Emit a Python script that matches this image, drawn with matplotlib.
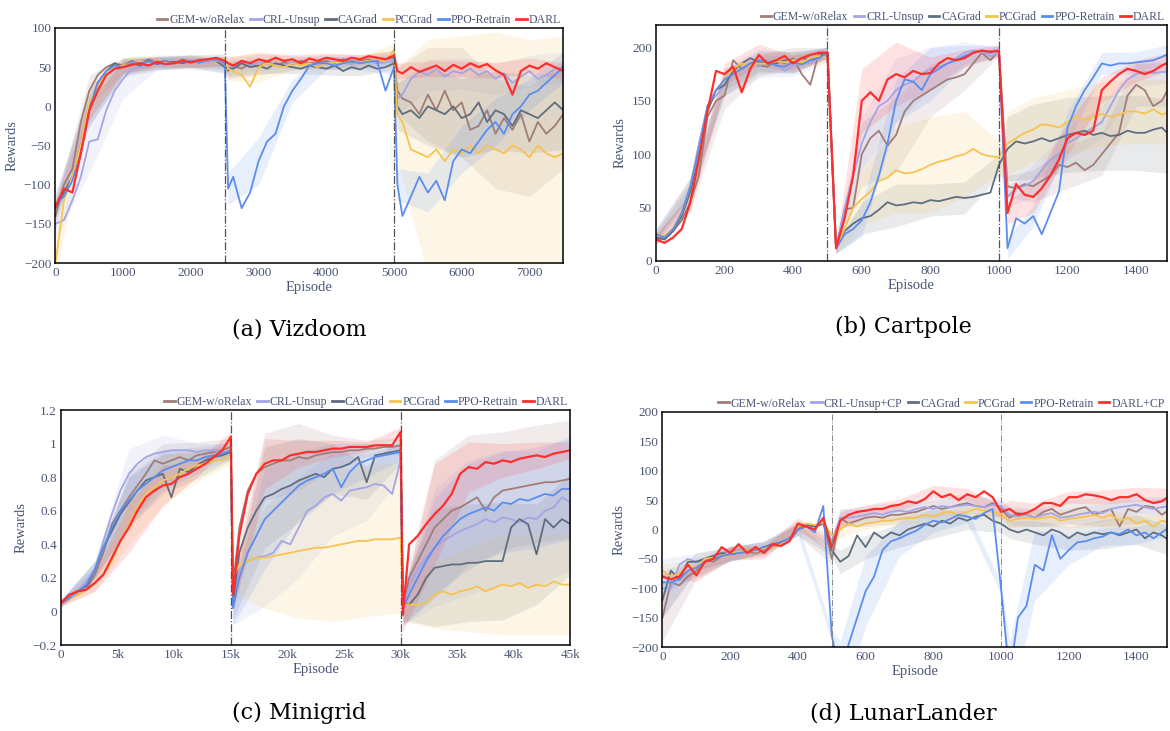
import numpy as np
import matplotlib
matplotlib.use("Agg")
import matplotlib.pyplot as plt

plt.rcParams['font.family'] = ['Liberation Serif', 'DejaVu Serif']

methods = ["GEM-w/oRelax", "CRL-Unsup", "CAGrad", "PCGrad", "PPO-Retrain", "DARL"]
methods_ll = ["GEM-w/oRelax", "CRL-Unsup+CP", "CAGrad", "PCGrad", "PPO-Retrain", "DARL+CP"]
colors = ["#a07d76", "#a3a5e6", "#5f6e7e", "#f7c34f", "#5b8def", "#ff2e2e"]

# ---------------- (a) Vizdoom ----------------
vz_x = sorted(list(range(0, 7501, 125)) + [2550, 5050])
vz_gem = [-140,-100,-80,-20,20,40,50,55,52,58,55,60,56,58,55,60,57,56,58,60,55, 45,
          52,48,55,50,58,52,56,54,58,55,56,58,55,60,56,58,60,58,60,62, 20,
          10,5,-10,15,-5,20,-5,5,-30,-25,-5,-35,-15,-30,-10,-45,-20,-35,-25,-10]
vz_crl = [-150,-145,-120,-90,-45,-42,-5,20,35,48,50,52,55,53,55,57,55,58,56,60,52, 50,
          50,55,52,56,54,55,52,57,55,54,52,55,57,55,54,56,58,55,56,58, 10,
          15,35,45,40,48,38,45,42,48,40,45,35,42,30,38,45,35,40,48,50]
vz_cag = [-130,-110,-90,-50,0,30,45,55,50,55,52,58,54,56,57,55,58,56,60,58,50, 48,
          48,55,50,52,48,55,52,50,48,52,50,48,52,45,50,47,52,48,50,55, 0,
          -10,-5,-15,0,-5,-10,0,-15,-10,5,-20,-5,-10,-25,-5,-10,-15,-5,5,-5]
vz_pcg = [-200,-120,-90,-50,5,25,45,50,52,55,57,55,58,56,55,58,57,56,60,58,60, 48,
          45,40,25,50,55,52,50,55,52,55,50,55,56,55,58,56,58,60,58,72, -10,
          -20,-55,-60,-65,-55,-70,-55,-60,-50,-60,-50,-55,-60,-50,-55,-65,-50,-60,-65,-60]
vz_ppo = [-125,-115,-95,-60,-5,30,45,52,50,55,55,57,56,58,55,57,58,56,60,59,58, -105,
          -90,-130,-110,-70,-45,-35,0,20,35,52,55,55,52,55,58,55,57,58,20,50, -100,
          -140,-115,-90,-110,-95,-120,-70,-55,-60,-45,-30,-20,-35,-10,0,15,20,30,40,50]
vz_darl = [-128,-105,-110,-60,-5,20,40,48,50,53,55,52,57,54,55,58,56,59,60,62,58, 55,
           52,58,55,60,57,62,58,60,55,61,58,62,60,58,62,60,64,62,60,65, 45,
           42,50,44,48,52,45,53,48,55,50,54,46,40,15,45,52,48,55,50,45]
vz_band_x = [0, 500, 1000, 1500, 2000, 2500, 2550, 3000, 3500, 4000, 4500, 5000, 5050, 5500, 6000, 6500, 7000, 7500]
vz_gem_w = [15,20,10,8,8,8,10,10,8,8,8,8,30,60,70,70,70,70]
vz_crl_w = [20,40,25,8,8,8,10,10,8,8,8,8,20,20,20,20,20,20]
vz_cag_w = [15,25,12,8,8,8,10,10,8,8,8,8,30,50,50,50,50,50]
vz_pcg_w = [15,20,10,8,8,8,15,20,8,8,8,8,60,150,150,150,150,150]
vz_ppo_w = [15,20,10,8,8,8,20,30,15,8,8,10,20,25,30,30,20,20]
vz_darl_w = [10,12,8,6,6,6,8,8,6,6,6,6,10,10,10,10,10,10]

# ---------------- (b) Cartpole ----------------
cp_x = list(range(0, 1501, 25))
cp_gem = [20,22,28,38,55,80,135,150,155,188,180,185,183,182,188,185,190,175,165,195,195,
          12,48,50,100,115,122,108,118,140,150,155,160,165,170,172,175,185,195,188,197,
          70,68,72,70,75,80,90,88,92,85,90,100,110,120,155,165,160,145,150,165]
cp_crl = [25,22,30,45,70,110,145,155,165,175,180,185,182,188,185,178,183,186,185,190,192,
          12,50,80,110,130,145,150,160,165,168,175,180,182,185,190,195,197,196,192,195,
          60,68,70,75,85,95,100,110,115,120,125,130,145,160,170,175,177,176,177,177]
cp_cag = [22,20,28,42,65,100,140,160,165,178,185,190,186,185,185,188,186,190,188,192,195,
          12,28,35,40,42,48,55,52,53,55,54,57,56,58,60,59,60,62,64,90,
          105,112,110,112,115,112,115,118,120,122,118,120,117,118,122,120,120,123,125,117]
cp_pcg = [24,24,30,45,70,105,145,160,170,180,185,183,185,185,187,186,188,186,190,192,190,
          12,30,50,58,65,75,78,85,82,83,86,90,93,95,98,100,105,100,98,97,
          110,115,120,123,128,127,125,130,135,132,135,138,135,137,140,140,138,142,137,140]
cp_ppo = [25,22,30,45,70,105,145,160,170,175,180,185,188,186,183,182,186,184,188,190,195,
          12,25,30,38,55,80,110,150,170,168,160,175,180,185,188,192,195,197,195,197,
          12,40,35,42,25,45,65,125,145,160,172,185,183,185,185,186,187,188,191,195]
cp_darl = [20,17,22,30,55,95,140,178,175,182,158,180,193,185,188,192,185,190,193,195,195,
           12,40,80,150,158,150,170,175,172,178,175,176,185,190,188,190,195,197,196,197,
           45,72,62,60,68,80,95,115,120,118,122,160,168,175,180,178,175,178,183,187]
cp_band_x = [0, 100, 200, 300, 400, 500, 525, 600, 700, 800, 900, 1000, 1025, 1100, 1200, 1300, 1400, 1500]
cp_gem_w = [5,8,12,10,10,5,5,30,35,25,15,5,10,15,20,20,20,20]
cp_crl_w = [5,8,10,10,10,5,5,25,30,20,10,5,10,15,15,15,12,10]
cp_cag_w = [5,8,10,10,10,5,5,15,20,15,15,10,30,35,35,35,35,35]
cp_pcg_w = [5,8,10,8,8,5,5,25,40,45,40,15,30,30,30,30,30,30]
cp_ppo_w = [5,8,10,10,10,5,5,15,20,25,10,5,10,10,15,10,10,8]
cp_darl_w = [5,8,10,10,8,5,5,30,30,15,8,5,10,15,15,12,10,8]

# ---------------- (c) Minigrid ----------------
mg_x = sorted(list(range(0, 45001, 750)) + [15200, 30200])
mg_gem = [0.05,0.08,0.1,0.13,0.22,0.35,0.52,0.6,0.68,0.75,0.82,0.9,0.88,0.9,0.92,0.9,0.93,0.94,0.95,0.96,0.98, 0.15,
          0.5,0.72,0.82,0.86,0.88,0.9,0.9,0.92,0.91,0.93,0.94,0.95,0.95,0.96,0.96,0.97,0.97,0.98,0.98,0.99, 0.02,
          0.2,0.3,0.4,0.5,0.55,0.6,0.62,0.65,0.68,0.6,0.68,0.72,0.73,0.74,0.75,0.76,0.77,0.77,0.78,0.79]
mg_crl = [0.05,0.1,0.12,0.18,0.25,0.42,0.58,0.72,0.82,0.88,0.92,0.94,0.95,0.96,0.96,0.96,0.95,0.96,0.96,0.95,0.95, 0.02,
          0.25,0.3,0.32,0.33,0.35,0.42,0.4,0.5,0.6,0.63,0.68,0.7,0.66,0.72,0.73,0.74,0.76,0.75,0.7,0.9, 0.02,
          0.15,0.25,0.32,0.38,0.42,0.45,0.48,0.5,0.52,0.55,0.53,0.56,0.55,0.53,0.56,0.55,0.6,0.62,0.68,0.65]
mg_cag = [0.05,0.08,0.12,0.15,0.25,0.38,0.48,0.58,0.65,0.72,0.78,0.8,0.82,0.68,0.85,0.83,0.87,0.9,0.92,0.93,0.95, 0.05,
          0.35,0.5,0.6,0.68,0.7,0.73,0.75,0.78,0.8,0.82,0.8,0.85,0.86,0.88,0.92,0.77,0.93,0.94,0.95,0.96, 0.05,
          0.04,0.1,0.2,0.26,0.27,0.28,0.28,0.29,0.29,0.3,0.3,0.3,0.5,0.55,0.52,0.34,0.55,0.5,0.55,0.52]
mg_pcg = [0.05,0.08,0.1,0.13,0.17,0.22,0.3,0.42,0.52,0.62,0.7,0.74,0.78,0.8,0.82,0.85,0.87,0.88,0.9,0.9,0.93, 0.2,
          0.28,0.3,0.32,0.32,0.33,0.34,0.35,0.36,0.37,0.38,0.38,0.39,0.4,0.41,0.42,0.42,0.43,0.43,0.43,0.44, 0.04,
          0.04,0.04,0.05,0.1,0.12,0.1,0.12,0.13,0.15,0.12,0.14,0.16,0.15,0.17,0.14,0.16,0.15,0.18,0.16,0.16]
mg_ppo = [0.05,0.08,0.12,0.16,0.25,0.38,0.5,0.6,0.66,0.72,0.76,0.8,0.84,0.86,0.88,0.9,0.9,0.92,0.93,0.94,0.96, 0.02,
          0.2,0.35,0.45,0.55,0.6,0.65,0.7,0.75,0.78,0.8,0.82,0.85,0.74,0.83,0.88,0.9,0.92,0.93,0.94,0.95, 0.02,
          0.1,0.2,0.3,0.38,0.45,0.5,0.55,0.58,0.6,0.62,0.6,0.65,0.64,0.67,0.66,0.68,0.7,0.69,0.73,0.73]
mg_darl = [0.05,0.1,0.12,0.13,0.17,0.22,0.32,0.42,0.5,0.6,0.68,0.72,0.75,0.76,0.8,0.82,0.85,0.88,0.92,0.96,1.04, 0.1,
           0.45,0.7,0.82,0.88,0.9,0.9,0.93,0.94,0.95,0.95,0.96,0.97,0.97,0.98,0.98,0.98,0.99,0.99,0.99,1.07, -0.02,
           0.4,0.45,0.52,0.58,0.63,0.7,0.82,0.86,0.85,0.89,0.88,0.9,0.89,0.91,0.92,0.93,0.92,0.94,0.95,0.96]
mg_band_x = [0, 3000, 6000, 9000, 12000, 15000, 15200, 18000, 21000, 24000, 27000, 30000, 30200, 33000, 36000, 39000, 42000, 45000]
mg_gem_w = [0.02,0.05,0.15,0.12,0.08,0.05,0.1,0.2,0.2,0.1,0.05,0.05,0.1,0.4,0.4,0.35,0.35,0.35]
mg_crl_w = [0.02,0.05,0.15,0.1,0.05,0.05,0.1,0.3,0.3,0.25,0.2,0.1,0.1,0.35,0.4,0.4,0.4,0.4]
mg_cag_w = [0.02,0.05,0.15,0.12,0.08,0.05,0.1,0.3,0.25,0.15,0.1,0.08,0.1,0.35,0.35,0.35,0.3,0.3]
mg_pcg_w = [0.02,0.05,0.12,0.15,0.1,0.05,0.1,0.3,0.4,0.45,0.45,0.45,0.1,0.2,0.25,0.3,0.3,0.3]
mg_ppo_w = [0.02,0.05,0.15,0.12,0.08,0.05,0.1,0.3,0.2,0.15,0.1,0.05,0.1,0.3,0.3,0.3,0.3,0.3]
mg_darl_w = [0.02,0.05,0.15,0.12,0.05,0.03,0.1,0.15,0.08,0.05,0.03,0.03,0.1,0.3,0.15,0.1,0.08,0.05]

# ---------------- (d) LunarLander ----------------
ll_x = list(range(0, 1501, 25))
ll_gem = [-150,-90,-95,-80,-70,-50,-55,-45,-40,-35,-38,-40,-35,-30,-25,-20,0,10,5,15,-50,
          20,10,15,20,22,20,25,25,28,30,35,40,35,38,42,45,40,38,45,35,
          20,28,25,20,30,35,25,30,35,38,25,30,35,5,35,30,40,38,25,35]
ll_crl = [-100,-100,-60,-50,-55,-50,-45,-40,-42,-35,-38,-35,-30,-28,-22,-15,5,10,5,10,-20,
          20,20,22,25,28,25,30,32,30,35,38,35,40,38,40,42,40,38,42,40,
          25,22,25,20,25,28,20,22,25,28,30,28,35,38,40,42,38,35,38,40]
ll_cag = [-120,-70,-85,-55,-55,-50,-45,-40,-42,-40,-35,-38,-30,-25,-22,-15,0,8,5,10,-35,
          -55,-45,-10,-30,-5,-15,-5,-10,0,5,10,5,15,10,20,15,22,25,15,10,
          0,-5,0,-5,-10,0,-5,-15,-5,-10,-5,-8,-5,-10,-5,0,-15,-5,-10,-20]
ll_pcg = [-70,-80,-75,-60,-65,-50,-48,-45,-40,-38,-35,-38,-32,-30,-25,-15,5,10,8,12,-10,
          0,10,5,10,12,15,15,18,20,20,25,22,28,30,25,30,35,32,30,25,
          15,18,20,18,20,22,15,18,20,22,25,20,25,15,20,10,15,5,15,10]
ll_ppo = [-90,-90,-85,-70,-65,-55,-50,-45,-42,-40,-38,-35,-30,-28,-22,-15,0,5,-5,40,-180,
          -250,-195,-150,-105,-80,-35,-20,-15,-8,-2,8,15,12,18,25,22,18,28,35,-100,
          -250,-150,-130,-60,-70,-10,-50,-35,-22,-20,-15,-12,-5,-8,0,-10,-5,-15,-5,5]
ll_darl = [-80,-85,-80,-60,-78,-55,-50,-30,-40,-25,-40,-30,-40,-25,-28,-20,10,5,0,20,-30,
           15,25,30,32,35,35,40,42,48,45,52,65,55,60,50,60,55,65,55,30,
           35,25,28,35,45,45,40,55,55,60,58,55,50,55,55,60,50,45,48,58]
ll_band_x = [0, 100, 200, 300, 400, 500, 525, 600, 700, 800, 900, 1000, 1025, 1100, 1200, 1300, 1400, 1500]
ll_gem_w = [40,15,12,10,10,10,15,15,15,15,15,15,15,15,20,25,20,20]
ll_crl_w = [50,15,12,10,10,10,15,15,15,15,15,15,15,15,15,15,15,15]
ll_cag_w = [30,15,12,10,10,10,20,20,20,20,15,15,15,20,20,25,25,25]
ll_pcg_w = [10,15,12,10,10,10,15,10,10,10,10,10,12,12,15,15,15,15]
ll_ppo_w = [20,15,12,10,10,10,60,60,30,20,10,10,60,60,25,15,15,15]
ll_darl_w = [5,10,12,10,10,10,15,10,10,10,10,10,15,10,10,12,12,12]

tick_color = "#4a5576"


def draw_panel(ax, x, ys, band_x, widths, labels, switches, vline_style):
    x = np.array(x)
    idx = np.searchsorted(x, band_x)
    for y, w, c in zip(ys, widths, colors):
        yb = np.array(y)[idx]
        w = np.array(w)
        ax.fill_between(band_x, yb - w, yb + w, color=c, alpha=0.14, lw=0)
    for y, c, lab in zip(ys, colors, labels):
        lw = 1.6 if lab.startswith("DARL") else 1.3
        ax.plot(x, y, color=c, lw=lw, label=lab)
    for s in switches:
        ax.axvline(s, **vline_style)
    for sp in ax.spines.values():
        sp.set_color("black")
        sp.set_linewidth(1.1)
    ax.tick_params(length=0, pad=3, labelsize=9.5, colors=tick_color)
    ax.set_ylabel("Rewards", fontsize=10.5, color=tick_color)
    ax.set_xlabel("Episode", fontsize=10.5, color=tick_color, labelpad=1)
    leg = ax.legend(loc="lower right", bbox_to_anchor=(1.0, 1.0), ncol=6, frameon=False,
                    fontsize=8.5, handlelength=0.9, handletextpad=0.15, columnspacing=0.45,
                    borderaxespad=0.1, borderpad=0.1)
    for t in leg.get_texts():
        t.set_color(tick_color)
    for h in leg.get_lines():
        h.set_linewidth(2)


fig = plt.figure(figsize=(11.7, 7.31), dpi=100)
vstyle = dict(color="#555555", lw=0.9, ls="-.")
vstyle_light = dict(color="#888888", lw=0.7, ls="-.")

ax_a = fig.add_axes([0.0474, 0.6402, 0.434, 0.3215])
draw_panel(ax_a, vz_x, [vz_gem, vz_crl, vz_cag, vz_pcg, vz_ppo, vz_darl], vz_band_x,
           [vz_gem_w, vz_crl_w, vz_cag_w, vz_pcg_w, vz_ppo_w, vz_darl_w], methods, [2500, 5000], vstyle)
ax_a.set_xlim(0, 7500)
ax_a.set_ylim(-200, 100)
ax_a.set_xticks(range(0, 7001, 1000))
ax_a.set_yticks(range(-200, 101, 50))

ax_b = fig.add_axes([0.5607, 0.643, 0.4367, 0.3228])
draw_panel(ax_b, cp_x, [cp_gem, cp_crl, cp_cag, cp_pcg, cp_ppo, cp_darl], cp_band_x,
           [cp_gem_w, cp_crl_w, cp_cag_w, cp_pcg_w, cp_ppo_w, cp_darl_w], methods, [500, 1000], vstyle)
ax_b.set_xlim(0, 1490)
ax_b.set_ylim(0, 221)
ax_b.set_xticks(range(0, 1401, 200))
ax_b.set_yticks(range(0, 201, 50))

ax_c = fig.add_axes([0.0521, 0.1176, 0.4355, 0.3215])
draw_panel(ax_c, mg_x, [mg_gem, mg_crl, mg_cag, mg_pcg, mg_ppo, mg_darl], mg_band_x,
           [mg_gem_w, mg_crl_w, mg_cag_w, mg_pcg_w, mg_ppo_w, mg_darl_w], methods, [15000, 30000], vstyle)
ax_c.set_xlim(0, 45000)
ax_c.set_ylim(-0.2, 1.2)
ax_c.set_xticks(range(0, 45001, 5000))
ax_c.set_xticklabels(["0"] + [f"{k}k" for k in range(5, 46, 5)])
ax_c.set_yticks([-0.2, 0, 0.2, 0.4, 0.6, 0.8, 1.0, 1.2])
ax_c.set_yticklabels(["\u22120.2", "0", "0.2", "0.4", "0.6", "0.8", "1", "1.2"])

ax_d = fig.add_axes([0.5662, 0.1149, 0.4312, 0.3215])
draw_panel(ax_d, ll_x, [ll_gem, ll_crl, ll_cag, ll_pcg, ll_ppo, ll_darl], ll_band_x,
           [ll_gem_w, ll_crl_w, ll_cag_w, ll_pcg_w, ll_ppo_w, ll_darl_w], methods_ll, [500, 1000], vstyle_light)
ax_d.set_xlim(0, 1490)
ax_d.set_ylim(-200, 200)
ax_d.set_xticks(range(0, 1401, 200))
ax_d.set_yticks(range(-200, 201, 50))

cap = dict(ha="center", va="center", fontsize=16, family=["DejaVu Serif"])
fig.text(0.256, 0.5486, "(a) Vizdoom", **cap)
fig.text(0.772, 0.5527, "(b) Cartpole", **cap)
fig.text(0.256, 0.0246, "(c) Minigrid", **cap)
fig.text(0.772, 0.0246, "(d) LunarLander", **cap)

fig.savefig("out.png", dpi=100)
